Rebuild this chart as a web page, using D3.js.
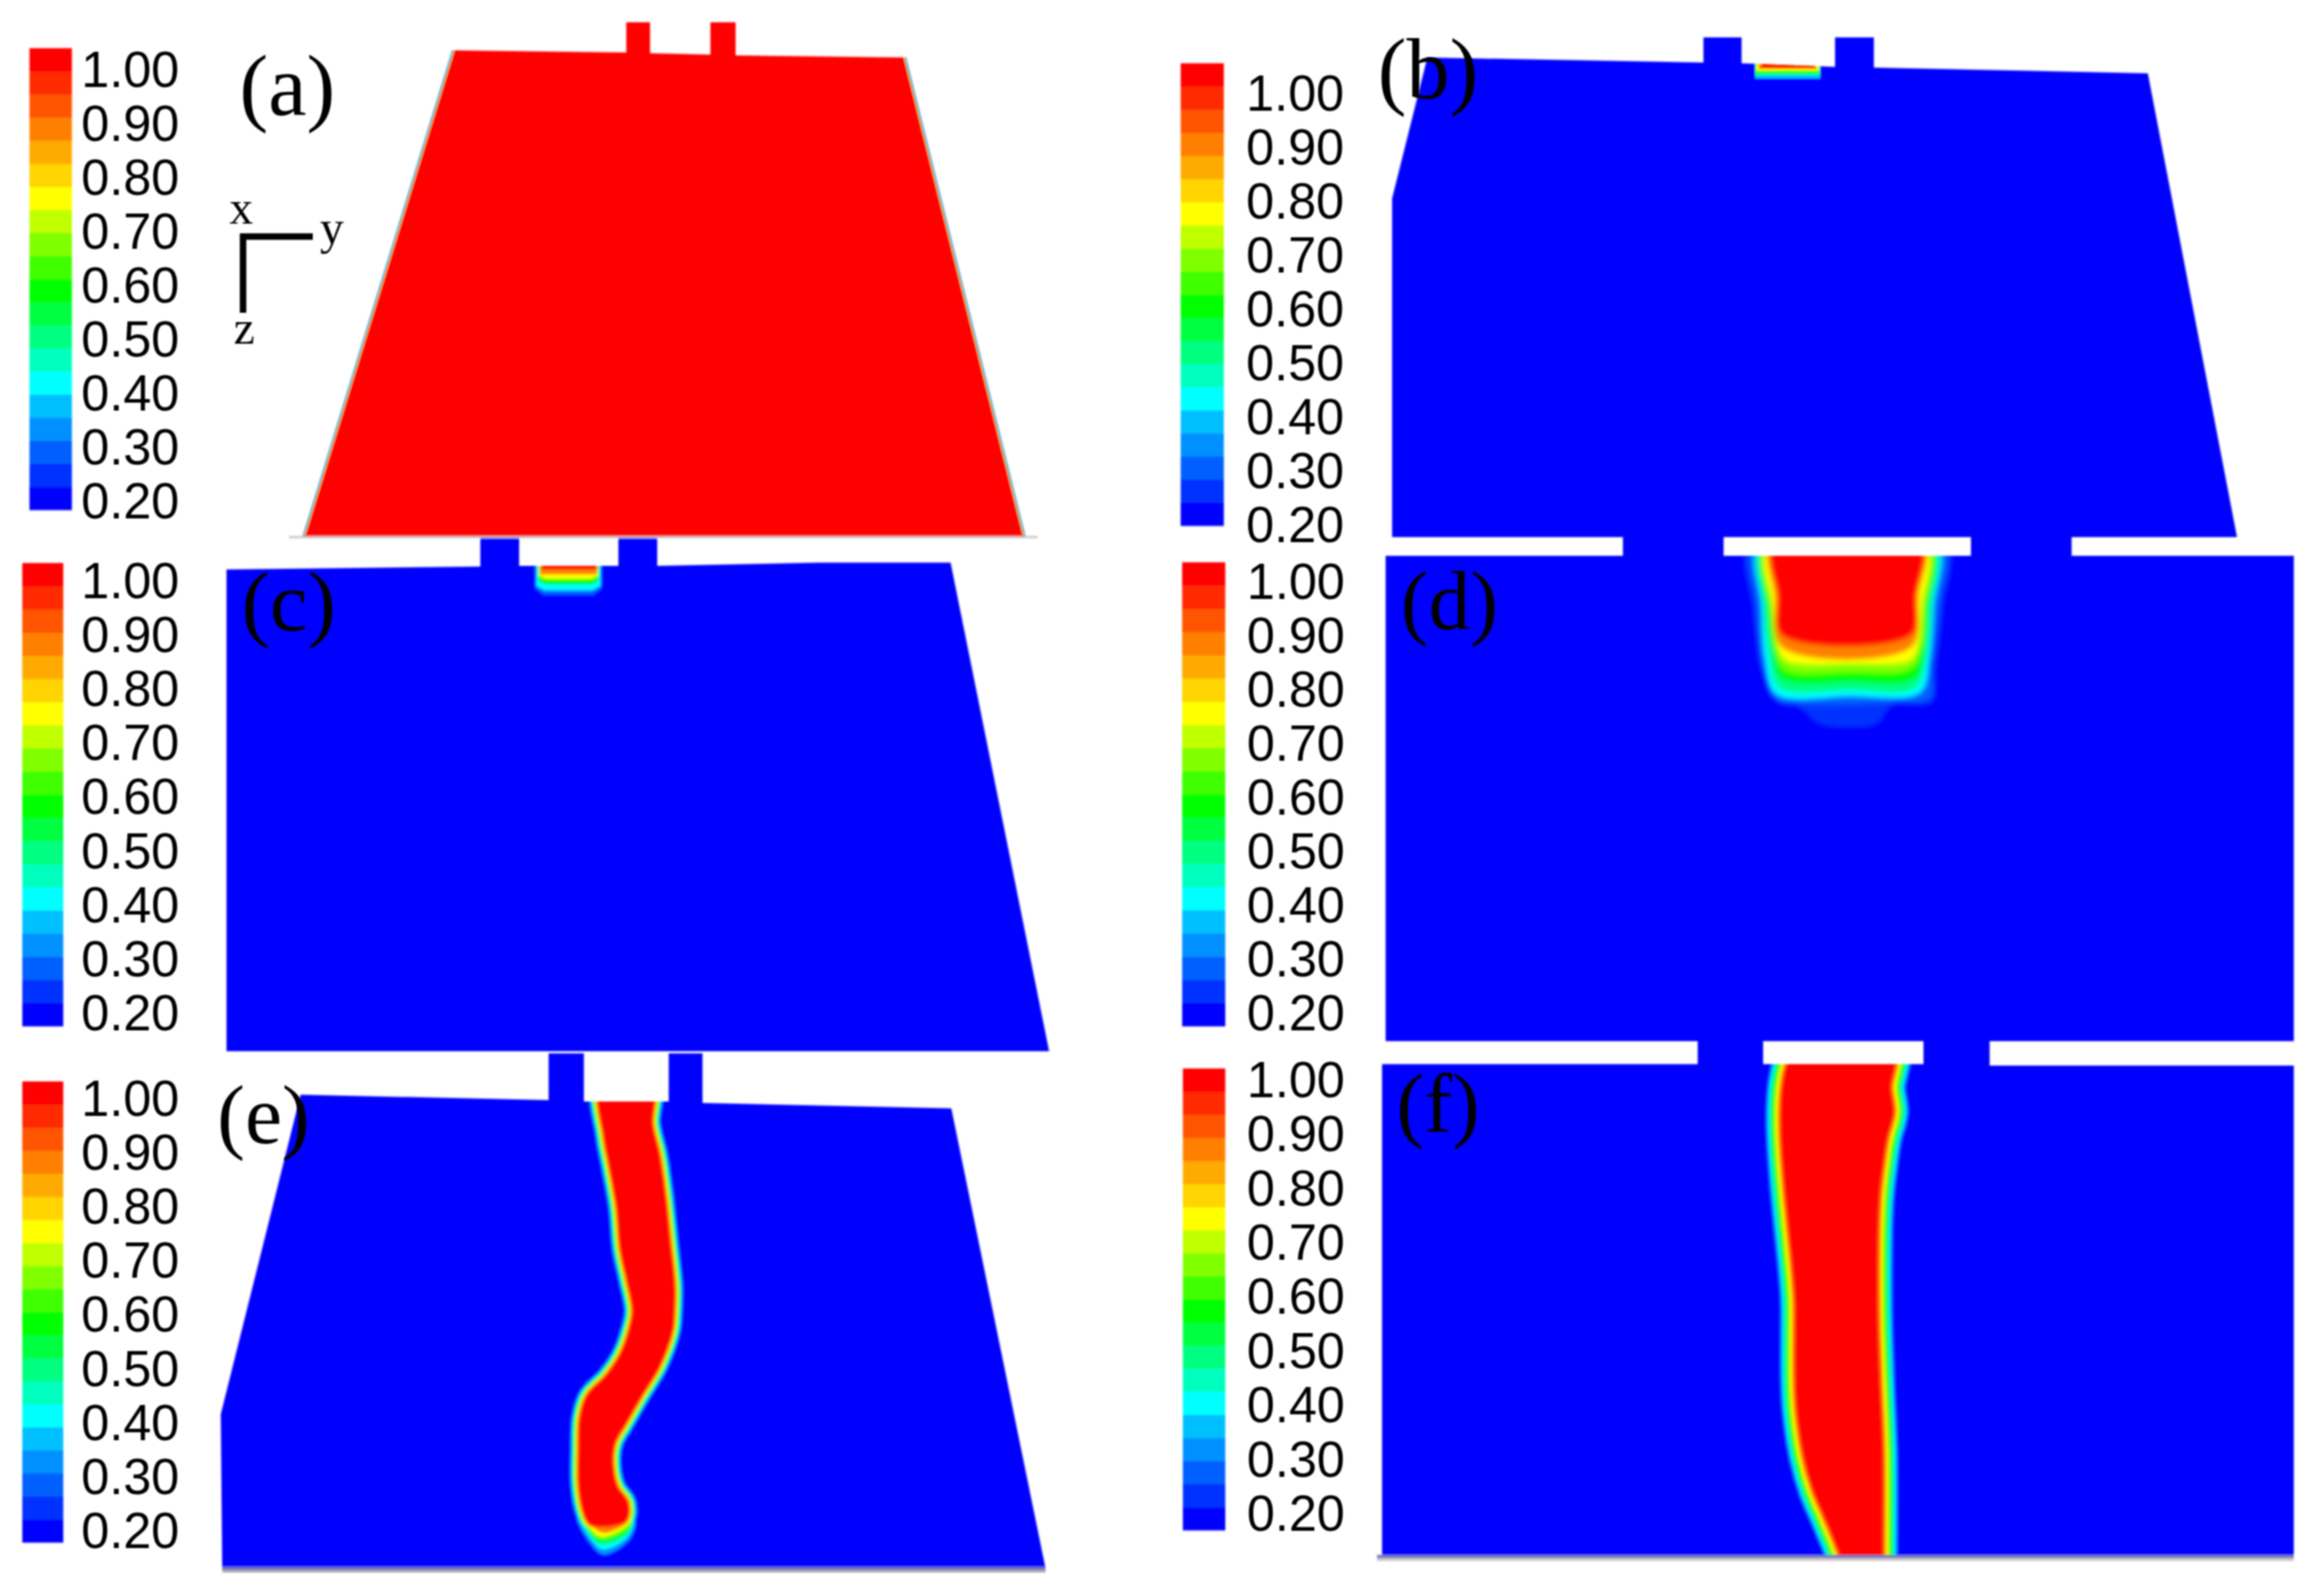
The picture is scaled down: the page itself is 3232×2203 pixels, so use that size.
<!DOCTYPE html>
<html lang="en">
<head>
    <meta charset="UTF-8">
    <title>Volume fraction contours</title>
    <style>
        html, body { margin: 0; padding: 0; background: #fff; }
        svg { display: block; }
    </style>
</head>
<body>
    <script src="https://cdn.jsdelivr.net/npm/d3@7"></script>
    <svg id="mysvg" width="3232" height="2203"></svg>
    <script>
        // colour bar, bottom band first (0.20 -> 1.00, 20 bands)
        var bandColors = ['#0000ff', '#0030ff', '#0060ff', '#0090ff', '#00bfff', '#00ffff', '#00ffbf',
            '#00ff80', '#00ff40', '#00ff00', '#40ff00', '#80ff00', '#bfff00', '#ffff00', '#ffd400',
            '#ffaa00', '#ff8000', '#ff5500', '#ff2a00', '#ff0000'];
        var tickValues = [0.2, 0.3, 0.4, 0.5, 0.6, 0.7, 0.8, 0.9, 1.0];
        var panelNames = ['(a)', '(b)', '(c)', '(d)', '(e)', '(f)'];

        // levels shown between a plume core and the surrounding liquid
        var shellLevels = [0.24, 0.3, 0.34, 0.38, 0.42, 0.46, 0.5, 0.54, 0.58, 0.62, 0.66, 0.7, 0.74, 0.78, 0.82, 0.86, 0.9, 0.94];
        var rimLevels = [0.74, 0.5, 0.3];

        // domain outlines (y, z per panel)
        var outlineA = [[208,39],[450,42],[450,0],[483,0],[483,43],[567,45],[567,0],[602,0],[602,46],[839,49],[1005,715],[0,715]];
        var outlineB = [[49,28],[433,35],[433,0],[486,0],[486,36],[616,41],[616,0],[670,0],[670,42],[1051,50],[1175,695],[0,695],[0,224]];
        var outlineC = [[0,45],[353,41],[353,0],[407,0],[407,40],[545,40],[545,0],[599,0],[599,40],[824,35.5],[1007,35.5],[1144,715],[0,715]];
        var outlineD = [[0,26],[330,26],[330,0],[470,0],[470,26],[814,26],[814,0],[954,0],[954,26],[1263,26],[1263,701],[0,701]];
        var outlineE = [[111,57.5],[456,65],[456,0],[505,0],[505,67],[623,67],[623,0],[670,0],[670,69],[1016,76.5],[1147,716],[2,716],[0,502]];
        var outlineF = [[0,32],[439,32],[439,0],[530,0],[530,32],[753,32],[753,0],[845,0],[845,34],[1268,34],[1268,716],[0,716]];

        // thin rim on the slanted walls of (a)
        var rimA = [[[208,39],[0,715]], [[839,49],[1005,715]]];

        // explicit contours [value, points]
        var contoursB = [
            [0.38, [[505,36],[505,57],[595,57],[595,36]]],
            [0.5, [[505,36],[505,53],[595,53],[595,36]]],
            [0.62, [[505,36],[505,49],[595,49],[595,36]]],
            [0.74, [[507,36],[507,46],[593,46],[593,36]]],
            [0.86, [[510,36],[510,44],[590,44],[590,36]]],
            [1.0, [[514,36],[514,42],[588,42],[588,36]]]
        ];
        var contoursC = [
            [0.3, [[429,30],[429,72],[441,81],[510,81],[522,72],[522,30]]],
            [0.42, [[431,30],[431,68],[442,74],[509,74],[520,68],[520,30]]],
            [0.58, [[433,30],[433,60],[443,66],[508,66],[518,60],[518,30]]],
            [0.74, [[435,30],[435,54],[444,58],[507,58],[516,54],[516,30]]],
            [0.86, [[436,30],[436,52],[515,52],[515,30]]],
            [1.0, [[438,30],[438,45],[516,45],[516,30]]]
        ];
        var contoursD = [
            [0.26, [[505,10],[510,96],[523,186],[545,230],[573,236],[603,260],[643,265],[683,260],[705,235],[760,230],[766,180],[776,96],[780,10]]],
            [0.3, [[513,10],[516,96],[525,186],[541,226],[590,233],[706,230],[758,223],[760,186],[770,96],[775,10]]],
            [0.42, [[521,10],[523,96],[528,170],[543,218],[646,221],[743,216],[756,170],[762,96],[766,10]]],
            [0.5, [[524,10],[526,96],[533,163],[548,210],[646,213],[736,210],[753,163],[759,96],[762,10]]],
            [0.58, [[526,10],[530,96],[538,156],[551,196],[646,201],[736,196],[750,153],[755,96],[760,10]]],
            [0.66, [[530,10],[535,96],[543,160],[556,185],[646,188],[730,183],[745,153],[750,96],[755,10]]],
            [0.74, [[532,10],[538,96],[548,160],[560,173],[646,176],[730,171],[740,153],[746,96],[751,10]]],
            [0.86, [[536,10],[541,80],[551,153],[731,153],[741,80],[748,10]]],
            [1.0, [[540,10],[545,80],[551,136],[731,136],[738,80],[744,10]]]
        ];
        var tipE = [
            [0.34, [[496,642],[516,685],[533,698],[570,675],[575,645]]],
            [0.42, [[500,642],[520,682],[533,690],[566,672],[573,645]]],
            [0.5, [[503,642],[520,678],[533,684],[566,668],[572,645]]],
            [0.58, [[503,642],[521,675],[533,678],[566,665],[571,645]]],
            [0.66, [[505,642],[521,671],[533,675],[566,660],[570,645]]],
            [0.74, [[506,642],[521,668],[533,672],[566,655],[570,645]]],
            [0.86, [[511,648],[523,663],[536,667],[565,652]]]
        ];

        // plume cores (value 1.00)
        var coreE = [[529,45],[533,115],[541,158],[551,215],[556,272],[565,315],[573,358],[568,385],[556,418],[536,448],[510,475],[500,505],
            [498,552],[498,598],[503,632],[511,652],[520,657],[563,650],[566,625],[551,602],[545,572],[548,542],[563,515],[586,475],[610,435],
            [628,385],[630,365],[631,325],[625,265],[618,198],[610,142],[600,98],[600,45]];
        var coreF = [[576,12],[576,372],[576,472],[578,512],[588,579],[601,625],[618,665],[638,715],[645,742],[695,742],[695,715],[695,572],
            [691,472],[688,372],[690,222],[695,175],[701,135],[710,99],[706,65],[710,12]];

        // plain layout table
        var layout = [
            {outline: outlineA, left: 421, top: 31, base: 1.0, rim: rimA, bar: [41, 100, 67, 709], labels: [113, 698, 98], name: [333, 160, 120]},
            {outline: outlineB, left: 1936, top: 52, base: 0.2, contours: contoursB, curve: d3.curveLinearClosed, bar: [1642, 1702, 88, 731], labels: [1733, 731, 131], name: [1916, 137, 120]},
            {outline: outlineC, left: 315, top: 747, base: 0.2, contours: contoursC, curve: d3.curveLinearClosed, soft: 'soft2', bar: [31, 88, 783, 1427], labels: [113, 1410, 809], name: [336, 877, 118]},
            {outline: outlineD, left: 1927, top: 747, base: 0.2, contours: contoursD, curve: d3.curveCatmullRomClosed, soft: 'soft3', bar: [1644, 1704, 782, 1427], labels: [1734, 1410, 810], name: [1948, 875, 116]},
            {outline: outlineE, left: 307, top: 1465, base: 0.2, contours: tipE, curve: d3.curveCatmullRomClosed, core: coreE, edge: 13, soft: 'soft2', bar: [31, 88, 1504, 2145], labels: [113, 2130, 1529], name: [302, 1590, 116]},
            {outline: outlineF, left: 1922, top: 1448, base: 0.2, core: coreF, edge: 25, soft: 'soft2', bar: [1645, 1704, 1486, 2128], labels: [1734, 2106, 1503], name: [1942, 1574, 116]}
        ];

        var svg = d3.select('#mysvg');
        var defs = svg.append('defs');
        function addBlur(id, amount) {
            defs.append('filter').attr('id', id)
                .attr('filterUnits', 'userSpaceOnUse')
                .attr('x', 0).attr('y', 0).attr('width', 3232).attr('height', 2203)
                .append('feGaussianBlur').attr('stdDeviation', amount);
        }
        addBlur('soft', 1.6);
        addBlur('softtext', 0.9);
        addBlur('soft2', 1.6);
        addBlur('soft3', 3.2);

        var color = d3.scaleQuantize().domain([0.2, 1.0]).range(bandColors);

        var fieldLayer = svg.append('g').attr('filter', 'url(#soft)');
        var textLayer = svg.append('g').attr('filter', 'url(#softtext)');

        layout.forEach(function (p, i) {
            var w = d3.max(p.outline, function (d) { return d[0]; });
            var h = d3.max(p.outline, function (d) { return d[1]; });
            var x = d3.scaleLinear().domain([0, w]).range([p.left, p.left + w]);
            var y = d3.scaleLinear().domain([0, h]).range([p.top, p.top + h]);
            var line = d3.line().x(function (d) { return x(d[0]); }).y(function (d) { return y(d[1]); });

            var outlinePath = line.curve(d3.curveLinearClosed)(p.outline);
            defs.append('clipPath').attr('id', 'body' + i).append('path').attr('d', outlinePath);

            var g = fieldLayer.append('g');
            g.append('path').attr('d', outlinePath).attr('fill', color(p.base));

            var inner = g.append('g').attr('clip-path', 'url(#body' + i + ')');
            var levels = inner.append('g');
            if (p.soft) levels.attr('filter', 'url(#' + p.soft + ')');

            // everything painted from low value to high value
            var paint = [];
            (p.contours || []).forEach(function (c) {
                paint.push({value: c[0], d: line.curve(p.curve)(c[1]), width: 0});
            });
            if (p.core) {
                var edge = d3.scaleLinear().domain([0.2, 1.0]).range([p.edge, 0]);
                var corePath = line.curve(d3.curveCatmullRomClosed)(p.core);
                shellLevels.forEach(function (v) {
                    paint.push({value: v, d: corePath, width: 2 * edge(v)});
                });
                paint.push({value: 1.0, d: corePath, width: 0});
            }
            paint.sort(function (a, b) { return a.value - b.value; });

            levels.selectAll('path.level').data(paint).enter().append('path')
                .attr('class', 'level')
                .attr('d', function (d) { return d.d; })
                .attr('fill', function (d) { return color(d.value); })
                .attr('stroke', function (d) { return color(d.value); })
                .attr('stroke-width', function (d) { return d.width; })
                .attr('stroke-linejoin', 'round');

            if (p.rim) {
                var rimWidth = d3.scaleLinear().domain([0.2, 1.0]).range([1, 3.5]);
                rimLevels.forEach(function (v) {
                    p.rim.forEach(function (r) {
                        inner.append('path')
                            .attr('d', line.curve(d3.curveLinear)(r))
                            .attr('fill', 'none')
                            .attr('stroke', color(v))
                            .attr('stroke-width', 2 * rimWidth(v));
                    });
                });
            }

            // colour bar
            var bandY = d3.scaleBand().domain(d3.range(bandColors.length).reverse()).range([p.bar[2], p.bar[3]]);
            g.selectAll('rect.band').data(bandColors).enter().append('rect')
                .attr('class', 'band')
                .attr('x', p.bar[0])
                .attr('y', function (d, j) { return bandY(j); })
                .attr('width', p.bar[1] - p.bar[0])
                .attr('height', bandY.bandwidth() + 0.5)
                .attr('fill', function (d) { return d; });

            var tickY = d3.scaleLinear().domain([0.2, 1.0]).range([p.labels[1], p.labels[2]]);
            var axis = d3.axisRight(tickY).tickValues(tickValues).tickFormat(d3.format('.2f')).tickSize(0).tickPadding(0);
            var ag = textLayer.append('g').attr('transform', 'translate(' + p.labels[0] + ',0)').call(axis);
            ag.select('.domain').remove();
            ag.selectAll('text')
                .attr('fill', '#000')
                .style('font-family', '"Liberation Sans", Arial, sans-serif')
                .style('font-size', '70px');

            textLayer.append('text')
                .attr('x', p.name[0]).attr('y', p.name[1])
                .style('font-family', '"Liberation Serif", "Times New Roman", serif')
                .style('font-size', p.name[2] + 'px')
                .attr('fill', '#000')
                .text(panelNames[i]);
        });

        // baseline rules below the panels
        var rules = [
            {x: [402, 1443], y: 747, w: 3, c: '#c9c4c8'},
            {x: [309, 1454], y: 2181, w: 4, c: '#6a6ac8'},
            {x: [309, 1454], y: 2185, w: 4, c: '#aaaaaa'},
            {x: [1915, 3190], y: 2165, w: 5, c: '#7a7abf'},
            {x: [1915, 3190], y: 2169, w: 4, c: '#c8c8c8'}
        ];
        fieldLayer.selectAll('line.rule').data(rules).enter().append('line')
            .attr('class', 'rule')
            .attr('x1', function (d) { return d.x[0]; })
            .attr('x2', function (d) { return d.x[1]; })
            .attr('y1', function (d) { return d.y; })
            .attr('y2', function (d) { return d.y; })
            .attr('stroke', function (d) { return d.c; })
            .attr('stroke-width', function (d) { return d.w; });

        // coordinate triad in (a)
        var triad = [[435, 329], [338, 329], [338, 435]];
        textLayer.append('path')
            .attr('d', d3.line()(triad))
            .attr('fill', 'none')
            .attr('stroke', '#000')
            .attr('stroke-width', 9);
        var triadLabels = [['x', 319, 311], ['y', 445, 339], ['z', 325, 478]];
        textLayer.selectAll('text.triad').data(triadLabels).enter().append('text')
            .attr('class', 'triad')
            .attr('x', function (d) { return d[1]; })
            .attr('y', function (d) { return d[2]; })
            .style('font-family', '"Liberation Serif", "Times New Roman", serif')
            .style('font-size', '66px')
            .attr('fill', '#000')
            .text(function (d) { return d[0]; });
    </script>
</body>
</html>
